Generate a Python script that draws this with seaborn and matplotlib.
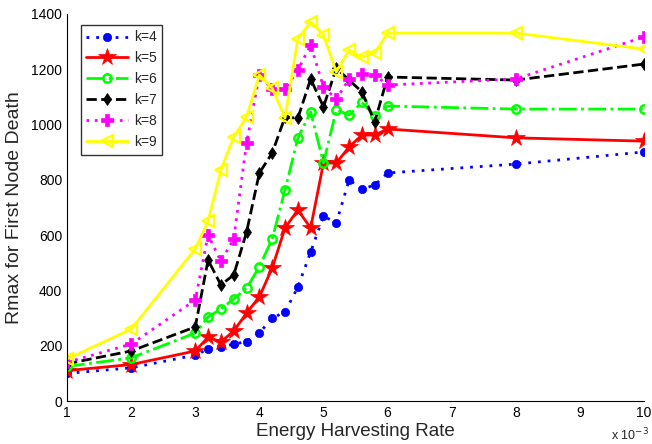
import matplotlib
matplotlib.use('Agg')
import matplotlib.pyplot as plt
import seaborn as sns

# energy harvesting rate (units of 1e-3)
rate = [1, 2, 3, 3.2, 3.4, 3.6, 3.8, 4, 4.2, 4.4, 4.6, 4.8, 5, 5.2, 5.4, 5.6, 5.8, 6, 8, 10]

k4 = [100, 120, 166, 188, 196, 206, 215, 246, 300, 322, 412, 539, 669, 644, 800, 767, 781, 825, 857, 901]
k5 = [110, 132, 181, 231, 214, 253, 318, 377, 481, 626, 691, 626, 861, 861, 919, 962, 962, 984, 952, 940]
k6 = [125, 156, 246, 304, 333, 369, 408, 486, 586, 763, 950, 1046, 861, 1053, 1035, 1080, 1031, 1067, 1056, 1056]
k7 = [135, 181, 268, 510, 420, 456, 611, 825, 897, 1027, 1023, 1165, 1064, 1204, 1161, 1118, 1010, 1172, 1161, 1219]
k8 = [140, 206, 365, 600, 506, 586, 933, 1179, 1128, 1128, 1197, 1288, 1136, 1092, 1165, 1183, 1179, 1143, 1165, 1317]
k9 = [152, 260, 550, 651, 836, 955, 1027, 1179, 1132, 1024, 1310, 1371, 1324, 1190, 1270, 1244, 1259, 1331, 1331, 1273]

labels = ['k=4', 'k=5', 'k=6', 'k=7', 'k=8', 'k=9']

sns.set_style('white')
plt.rcParams['font.family'] = ['Liberation Sans', 'DejaVu Sans']

fig = plt.figure(figsize=(6.52, 4.44), dpi=100)
ax = fig.add_axes([0.1028, 0.0968, 0.885, 0.8717])

styles = [
    dict(color='#0000ff', linestyle=(0, (1, 2.5)), marker='o', markersize=6,
         markerfacecolor='#0000ff', markeredgecolor='#0000ff', markeredgewidth=0.5),
    dict(color='#ff0000', linestyle='-', marker='*', markersize=13,
         markerfacecolor='#ff0000', markeredgecolor='#ff0000', markeredgewidth=0.5),
    dict(color='#00ff00', linestyle='-.', marker='o', markersize=6,
         markerfacecolor='none', markeredgecolor='#00ff00', markeredgewidth=1.8),
    dict(color='black', linestyle='--', marker='d', markersize=6,
         markerfacecolor='black', markeredgecolor='black', markeredgewidth=0.5),
    dict(color='#ff00ff', linestyle=(0, (1, 2)), marker='P', markersize=9,
         markerfacecolor='#ff00ff', markeredgecolor='#ff00ff', markeredgewidth=0.5),
    dict(color='#ffff00', linestyle='-', marker='<', markersize=8,
         markerfacecolor='none', markeredgecolor='#ffff00', markeredgewidth=1.6),
]

for vals, lab, st in zip([k4, k5, k6, k7, k8, k9], labels, styles):
    sns.lineplot(x=rate, y=vals, ax=ax, label=lab, linewidth=2, sort=False,
                 estimator=None, **st)

ax.set_xlim(1, 10)
ax.set_ylim(0, 1400)
ax.set_xticks(range(1, 11))
ax.set_yticks(range(0, 1401, 200))
ax.tick_params(direction='in', labelsize=10, length=4, width=0.8, colors='black')
for s in ['top', 'right']:
    ax.spines[s].set_visible(False)
for s in ['left', 'bottom']:
    ax.spines[s].set_color('black')
    ax.spines[s].set_linewidth(0.8)

ax.set_xlabel('Energy Harvesting Rate', fontsize=13.5, labelpad=2)
ax.set_ylabel('Rmax for First Node Death', fontsize=14, labelpad=6)
fig.text(649 / 652, 1 - 427 / 444, r'x 10$^{-3}$', ha='right', va='top', fontsize=9)

leg = ax.legend(loc='upper left', bbox_to_anchor=(0.024, 0.972), borderaxespad=0,
                fontsize=10, frameon=True, fancybox=False, edgecolor='black',
                handlelength=3.0, borderpad=0.4, labelspacing=0.5, handletextpad=0.4)
leg.get_frame().set_linewidth(1)

fig.savefig('out.png', dpi=100)
